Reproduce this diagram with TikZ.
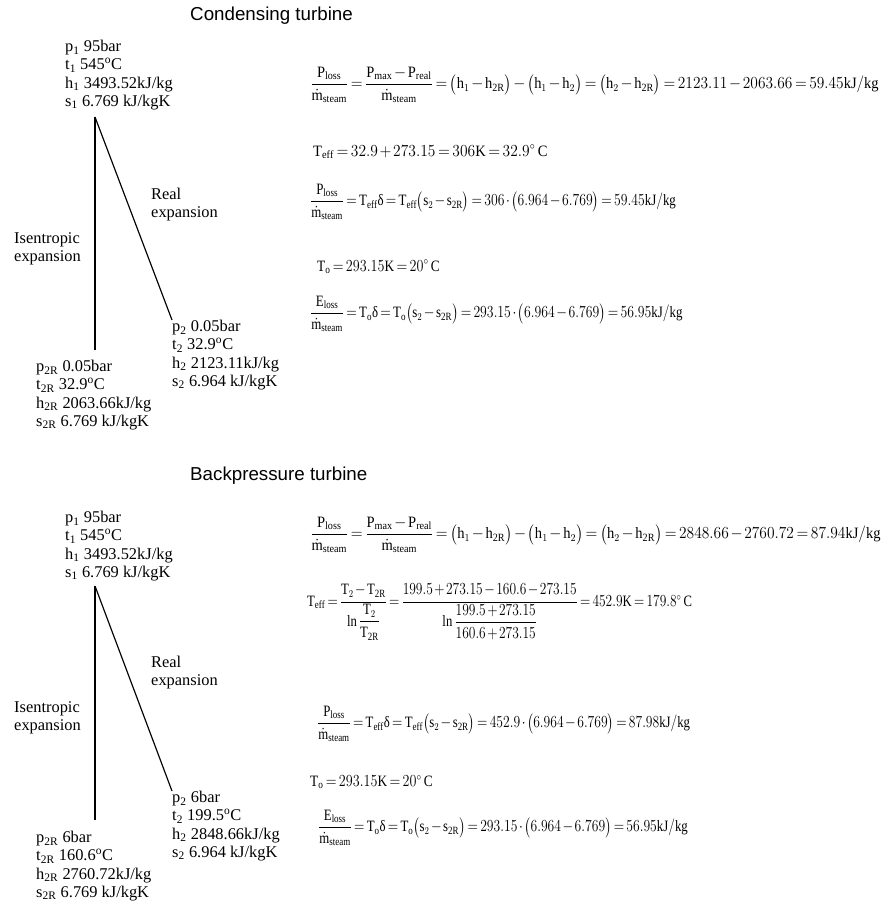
\documentclass[tikz,border=0pt]{standalone}
\usepackage{amsmath}
\usepackage{graphicx}
\usepackage{fontspec}
\setmainfont{Liberation Serif}
\setmathrm{Liberation Serif}
\newfontfamily\titlefont{Liberation Sans}
\DeclareSymbolFont{operators}{\encodingdefault}{\rmdefault}{m}{n}
\usetikzlibrary{positioning}
\tikzset{
	heading/.style={anchor=west,inner sep=0pt,font=\titlefont\fontsize{16}{19}\selectfont},
	state/.style={anchor=north west,inner sep=0pt,align=left,
		font=\fontsize{14}{15.6}\selectfont},
	formula/.style={anchor=west,inner sep=0pt,font=\fontsize{13.5}{15}\selectfont},
	expline/.style={line width=1pt}
}
\newcommand{\rsub}[1]{\textsubscript{#1}}
\newcommand{\degC}{\textsuperscript{o}C}
\newcommand{\m}[1]{\mathrm{#1}}
\newcommand{\mst}{\dot{\m{m}}_{\m{steam}}}
\newcommand{\ploss}{\dfrac{\m{P}_{\m{loss}}}{\mst}}
\newcommand{\dlt}{\text{δ}}
\newcommand{\pr}[1]{\bigl(#1\bigr)}
\newcommand{\eqn}[2]{\scalebox{#1}[1]{$#2$}}

\begin{document}
\begin{tikzpicture}[x=0.03cm,y=-0.03cm]
\useasboundingbox (0,0) rectangle (884,901);
\thickmuskip=3mu \medmuskip=2mu

% condensing turbine
\node[heading] (ctitle) at (190,16) {Condensing turbine};
\node[state] (cin) at (65,40) {p\rsub{1} 95bar\\t\rsub{1} 545\degC\\h\rsub{1} 3493.52kJ/kg\\s\rsub{1} 6.769 kJ/kgK};
\node[state] (cout) at (172,320) {p\rsub{2} 0.05bar\\t\rsub{2} 32.9\degC\\h\rsub{2} 2123.11kJ/kg\\s\rsub{2} 6.964 kJ/kgK};
\node[state] (coutR) at (36,360) {p\rsub{2R} 0.05bar\\t\rsub{2R} 32.9\degC\\h\rsub{2R} 2063.66kJ/kg\\s\rsub{2R} 6.769 kJ/kgK};
\node[state] (creal) at (151,188) {Real\\expansion};
\node[state] (cisen) at (14,232) {Isentropic\\expansion};
\coordinate (ctop) at (95,117);
\coordinate (cend) at (95,350);
\draw[expline] (ctop) -- (cend);
\draw[expline] (ctop) -- (cout.north west);

\node[formula] (ceq1) at (310,85) {\eqn{0.915}{\ploss=\dfrac{\m{P}_{\m{max}}-\m{P}_{\m{real}}}{\mst}=\pr{\m{h}_1-\m{h}_{\m{2R}}}-\pr{\m{h}_1-\m{h}_2}=\pr{\m{h}_2-\m{h}_{\m{2R}}}=2123.11-2063.66=59.45\m{kJ/kg}}};
\node[formula] (cteff) at (313,152) {\eqn{0.92}{\m{T}_{\m{eff}}=32.9+273.15=306\m{K}=32.9^{\circ}\,\m{C}}};
\node[formula] (ceq3) at (310,202) {\eqn{0.815}{\ploss=\m{T}_{\m{eff}}\dlt=\m{T}_{\m{eff}}\pr{\m{s}_2-\m{s}_{\m{2R}}}=306\cdot\pr{6.964-6.769}=59.45\m{kJ/kg}}};
\node[formula] (cto) at (317,267) {\eqn{0.84}{\m{T}_{\m{o}}=293.15\m{K}=20^{\circ}\,\m{C}}};
\node[formula] (ceq5) at (310,314) {\eqn{0.816}{\dfrac{\m{E}_{\m{loss}}}{\mst}=\m{T}_{\m{o}}\dlt=\m{T}_{\m{o}}\pr{\m{s}_2-\m{s}_{\m{2R}}}=293.15\cdot\pr{6.964-6.769}=56.95\m{kJ/kg}}};

% backpressure turbine
\node[heading] (btitle) at (190,476) {Backpressure turbine};
\node[state] (bin) at (65,511) {p\rsub{1} 95bar\\t\rsub{1} 545\degC\\h\rsub{1} 3493.52kJ/kg\\s\rsub{1} 6.769 kJ/kgK};
\node[state] (bout) at (172,791) {p\rsub{2} 6bar\\t\rsub{2} 199.5\degC\\h\rsub{2} 2848.66kJ/kg\\s\rsub{2} 6.964 kJ/kgK};
\node[state] (boutR) at (36,831) {p\rsub{2R} 6bar\\t\rsub{2R} 160.6\degC\\h\rsub{2R} 2760.72kJ/kg\\s\rsub{2R} 6.769 kJ/kgK};
\node[state] (breal) at (151,656) {Real\\expansion};
\node[state] (bisen) at (14,701) {Isentropic\\expansion};
\coordinate (btop) at (95,586);
\coordinate (bend) at (95,820);
\draw[expline] (btop) -- (bend);
\draw[expline] (btop) -- (bout.north west);

\node[formula] (beq1) at (310,535) {\eqn{0.918}{\ploss=\dfrac{\m{P}_{\m{max}}-\m{P}_{\m{real}}}{\mst}=\pr{\m{h}_1-\m{h}_{\m{2R}}}-\pr{\m{h}_1-\m{h}_2}=\pr{\m{h}_2-\m{h}_{\m{2R}}}=2848.66-2760.72=87.94\m{kJ/kg}}};
\node[formula] (bteff) at (307,612) {\eqn{0.80}{\m{T}_{\m{eff}}=\dfrac{\m{T}_2-\m{T}_{\m{2R}}}{\ln\dfrac{\m{T}_2}{\m{T}_{\m{2R}}}}=\dfrac{199.5+273.15-160.6-273.15}{\ln\dfrac{199.5+273.15}{160.6+273.15}}=452.9\m{K}=179.8^{\circ}\,\m{C}}};
\node[formula] (beq3) at (317,724) {\eqn{0.808}{\ploss=\m{T}_{\m{eff}}\dlt=\m{T}_{\m{eff}}\pr{\m{s}_2-\m{s}_{\m{2R}}}=452.9\cdot\pr{6.964-6.769}=87.98\m{kJ/kg}}};
\node[formula] (bto) at (310,782) {\eqn{0.84}{\m{T}_{\m{o}}=293.15\m{K}=20^{\circ}\,\m{C}}};
\node[formula] (beq5) at (318,828) {\eqn{0.81}{\dfrac{\m{E}_{\m{loss}}}{\mst}=\m{T}_{\m{o}}\dlt=\m{T}_{\m{o}}\pr{\m{s}_2-\m{s}_{\m{2R}}}=293.15\cdot\pr{6.964-6.769}=56.95\m{kJ/kg}}};

\end{tikzpicture}
\end{document}
